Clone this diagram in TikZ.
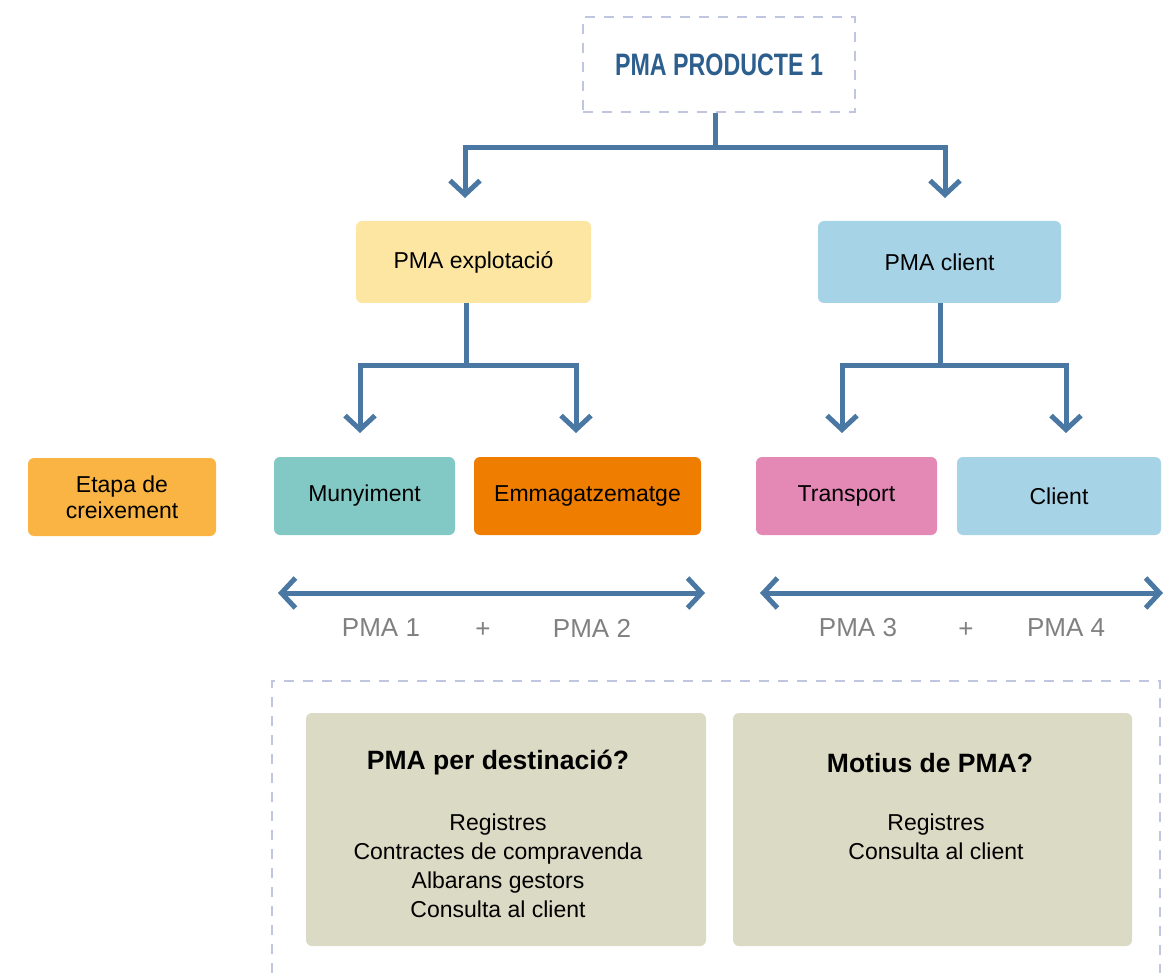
\documentclass[tikz,border=0pt]{standalone}
\usepackage{fontspec}
\setmainfont{Liberation Sans}
\newfontfamily\condfont[FakeStretch=0.75]{Liberation Sans}
\usetikzlibrary{arrows.meta,positioning}
\definecolor{linkblue}{HTML}{4A78A3}
\definecolor{titleblue}{HTML}{2C5E8E}
\definecolor{dashcol}{HTML}{C0C6E0}
\definecolor{explcol}{HTML}{FDE6A1}
\definecolor{clientcol}{HTML}{A7D3E6}
\definecolor{etapacol}{HTML}{F9B443}
\definecolor{munycol}{HTML}{82C9C6}
\definecolor{emmacol}{HTML}{EE7D00}
\definecolor{transpcol}{HTML}{E489B6}
\definecolor{infocol}{HTML}{DBDAC4}
\definecolor{pmagray}{HTML}{808080}
\begin{document}
\begin{tikzpicture}[x=1pt,y=-1pt]
\tikzset{link/.style={draw=linkblue,line width=5pt},
  arr/.style={link,-{Straight Barb[length=14pt,width=30pt]}},
  dblarr/.style={link,{Straight Barb[length=14pt,width=30pt]}-{Straight Barb[length=14pt,width=30pt]}},
  dashline/.style={draw=dashcol,line width=1.5pt,dash pattern=on 10pt off 9pt},
  topbox/.style={dashline,minimum width=272pt,minimum height=95pt,inner sep=0pt,text=titleblue,font=\condfont\bfseries\fontsize{31}{31}\selectfont},
  box/.style={rounded corners=6pt,inner sep=0pt,minimum height=78pt,align=center,text=black,font=\fontsize{23}{26}\selectfont},
  pmabox/.style={box,minimum height=82pt},
  pmalbl/.style={text=pmagray,font=\fontsize{26}{26}\selectfont},
  infobox/.style={fill=infocol,rounded corners=6pt,inner sep=0pt,minimum width=400pt,minimum height=233pt},
  infotitle/.style={text=black,font=\bfseries\fontsize{26.5}{26.5}\selectfont},
  infobody/.style={text=black,inner sep=0pt,align=center,anchor=north,font=\fontsize{23}{29}\selectfont}}
\useasboundingbox (0,0) rectangle (1167,973);
\node (top) at (719,64.5) [topbox] {PMA PRODUCTE 1};
\node (expl) at (473.5,262) [pmabox,fill=explcol,minimum width=235pt] {PMA explotació};
\node (pcli) at (939.5,262) [pmabox,fill=clientcol,minimum width=243pt] {PMA client};
\node (etapa) at (122,497) [box,fill=etapacol,minimum width=188pt] {Etapa de\\creixement};
\node (muny) at (364.5,496) [box,fill=munycol,minimum width=181pt] {Munyiment};
\node (emma) at (587.5,496) [box,fill=emmacol,minimum width=227pt] {Emmagatzematge};
\node (transp) at (846.5,496) [box,fill=transpcol,minimum width=181pt] {Transport};
\node (cli) at (1059,496) [box,fill=clientcol,minimum width=204pt] {Client};
\coordinate (j0) at (715,148);
\coordinate (t1) at (465,198);
\coordinate (t2) at (945,198);
\draw[link] (top.south -| j0) -- (j0);
\draw[arr] (j0) -| (t1);
\draw[arr] (j0) -| (t2);
\coordinate (j1) at (466,366);
\coordinate (t3) at (360,433);
\coordinate (t4) at (576,433);
\draw[link] (expl.south -| j1) -- (j1);
\draw[arr] (j1) -| (t3);
\draw[arr] (j1) -| (t4);
\coordinate (j2) at (940,366);
\coordinate (t5) at (842,433);
\coordinate (t6) at (1066,433);
\draw[link] (pcli.south -| j2) -- (j2);
\draw[arr] (j2) -| (t5);
\draw[arr] (j2) -| (t6);
\coordinate (d1) at (278,593);
\coordinate (d2) at (705,593);
\coordinate (d3) at (760,593);
\coordinate (d4) at (1163,593);
\draw[dblarr] (d1) -- (d2);
\draw[dblarr] (d3) -- (d4);
\node (pma1) at (381,628) [pmalbl] {PMA 1};
\node (plus1) at (483,630) [pmalbl] {+};
\node (pma2) at (592,628) [pmalbl] {PMA 2};
\node (pma3) at (858,628) [pmalbl] {PMA 3};
\node (plus2) at (966,630) [pmalbl] {+};
\node (pma4) at (1066,628) [pmalbl] {PMA 4};
\draw[dashline] (272,973) -- (272,681) -- (1160,681) -- (1160,973);
\node (dest) at (506,829.5) [infobox] {};
\node (motius) at (932.5,829.5) [infobox,minimum width=399pt] {};
\node (destT) at (498,763) [infotitle] {PMA per destinació?};
\node (destB) at (498,814) [infobody] {Registres\\Contractes de compravenda\\Albarans gestors\\Consulta al client};
\node (motiusT) at (930,763) [infotitle] {Motius de PMA?};
\node (motiusB) at (936,814) [infobody] {Registres\\Consulta al client};
\end{tikzpicture}
\end{document}
